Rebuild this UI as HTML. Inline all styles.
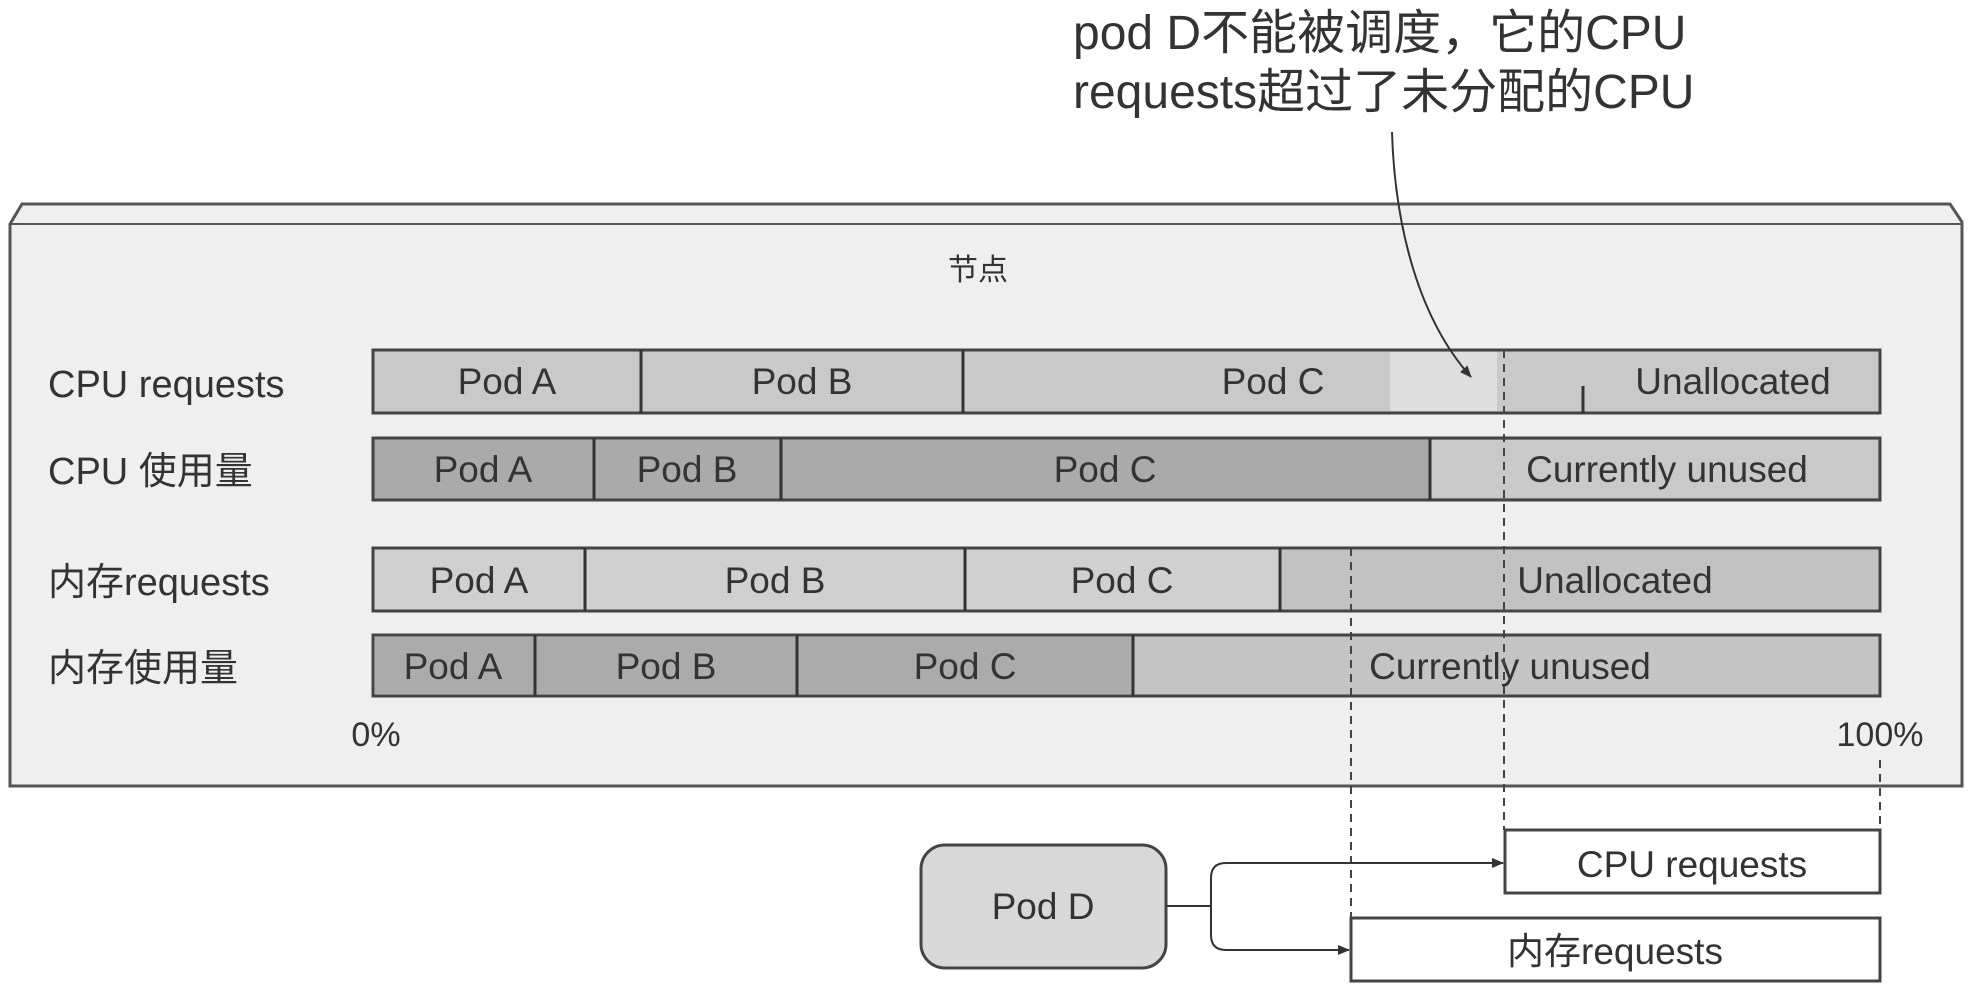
<!DOCTYPE html>
<html><head><meta charset="utf-8"><style>
body{margin:0;background:#fff;}
svg text{font-family:"Liberation Sans","Noto Sans CJK SC",sans-serif;fill:#333;}
</style></head><body>
<svg width="1972" height="988" viewBox="0 0 1972 988" xmlns="http://www.w3.org/2000/svg">
<defs><marker id="ar" markerWidth="12" markerHeight="10" refX="11" refY="5" orient="auto" markerUnits="userSpaceOnUse"><path d="M0,0 L12,5 L0,10 z" fill="#333"/></marker></defs>
<text x="1073" y="49" font-size="48">pod D不能被调度，它的CPU</text>
<text x="1073" y="108" font-size="48">requests超过了未分配的CPU</text>
<path d="M10,224 L22,204 L1950,204 L1962,222 L1962,786 L10,786 Z" fill="#efefef" stroke="#555" stroke-width="3"/>
<line x1="10" y1="224" x2="1962" y2="224" stroke="#555" stroke-width="2"/>
<text x="978" y="280" font-size="30" text-anchor="middle">节点</text>
<g font-size="38">
<text x="48" y="397">CPU requests</text>
<text x="48" y="484">CPU 使用量</text>
<text x="48" y="595">内存requests</text>
<text x="48" y="681">内存使用量</text>
</g>
<rect x="373" y="350" width="1507" height="63" fill="#c9c9c9" stroke="#444" stroke-width="3"/>
<rect x="1390" y="352" width="107" height="59" fill="#dedede"/>
<g stroke="#333" stroke-width="3"><line x1="641" y1="350" x2="641" y2="413"/><line x1="963" y1="350" x2="963" y2="413"/><line x1="1583" y1="386" x2="1583" y2="413"/></g>
<rect x="373" y="438" width="1507" height="62" fill="#aaaaaa" stroke="#444" stroke-width="3"/>
<rect x="1430" y="440" width="448" height="58" fill="#c9c9c9"/>
<g stroke="#333" stroke-width="3"><line x1="594" y1="438" x2="594" y2="500"/><line x1="781" y1="438" x2="781" y2="500"/><line x1="1430" y1="438" x2="1430" y2="500"/></g>
<rect x="373" y="548" width="1507" height="63" fill="#d0d0d0" stroke="#444" stroke-width="3"/>
<rect x="1280" y="550" width="598" height="59" fill="#c2c2c2"/>
<g stroke="#333" stroke-width="3"><line x1="585" y1="548" x2="585" y2="611"/><line x1="965" y1="548" x2="965" y2="611"/><line x1="1280" y1="548" x2="1280" y2="611"/></g>
<rect x="373" y="635" width="1507" height="61" fill="#c4c4c4" stroke="#444" stroke-width="3"/>
<rect x="375" y="637" width="758" height="57" fill="#ababab"/>
<g stroke="#333" stroke-width="3"><line x1="535" y1="635" x2="535" y2="696"/><line x1="797" y1="635" x2="797" y2="696"/><line x1="1133" y1="635" x2="1133" y2="696"/></g>
<g font-size="37" text-anchor="middle">
<text x="507" y="394">Pod A</text><text x="802" y="394">Pod B</text><text x="1273" y="394">Pod C</text><text x="1733" y="394">Unallocated</text>
<text x="483" y="482">Pod A</text><text x="687" y="482">Pod B</text><text x="1105" y="482">Pod C</text><text x="1667" y="482">Currently unused</text>
<text x="479" y="593">Pod A</text><text x="775" y="593">Pod B</text><text x="1122" y="593">Pod C</text><text x="1615" y="593">Unallocated</text>
<text x="453" y="679">Pod A</text><text x="666" y="679">Pod B</text><text x="965" y="679">Pod C</text><text x="1510" y="679">Currently unused</text>
</g>
<text x="376" y="746" font-size="34" text-anchor="middle">0%</text>
<text x="1880" y="746" font-size="34" text-anchor="middle">100%</text>
<g stroke="#444" stroke-width="2" stroke-dasharray="8,6" fill="none">
<line x1="1504" y1="350" x2="1504" y2="830"/>
<line x1="1351" y1="548" x2="1351" y2="918"/>
<line x1="1880" y1="760" x2="1880" y2="830"/>
</g>
<path d="M1392,132 C1395,230 1420,320 1471,377" fill="none" stroke="#333" stroke-width="2" marker-end="url(#ar)"/>
<rect x="921" y="845" width="245" height="123" rx="24" fill="#d8d8d8" stroke="#444" stroke-width="3"/>
<text x="1043" y="919" font-size="37" text-anchor="middle">Pod D</text>
<path d="M1166,906 L1211,906" stroke="#333" stroke-width="2" fill="none"/>
<path d="M1501,863 L1226,863 Q1211,863 1211,878 L1211,935 Q1211,950 1226,950 L1349,950" stroke="#333" stroke-width="2" fill="none" marker-end="url(#ar)"/>
<line x1="1480" y1="863" x2="1503" y2="863" stroke="#333" stroke-width="2" marker-end="url(#ar)"/>
<rect x="1505" y="830" width="375" height="63" fill="#fff" stroke="#444" stroke-width="3"/>
<text x="1692" y="877" font-size="37" text-anchor="middle">CPU requests</text>
<rect x="1351" y="918" width="529" height="63" fill="#fff" stroke="#444" stroke-width="3"/>
<text x="1615" y="964" font-size="37" text-anchor="middle">内存requests</text>
</svg>
</body></html>
